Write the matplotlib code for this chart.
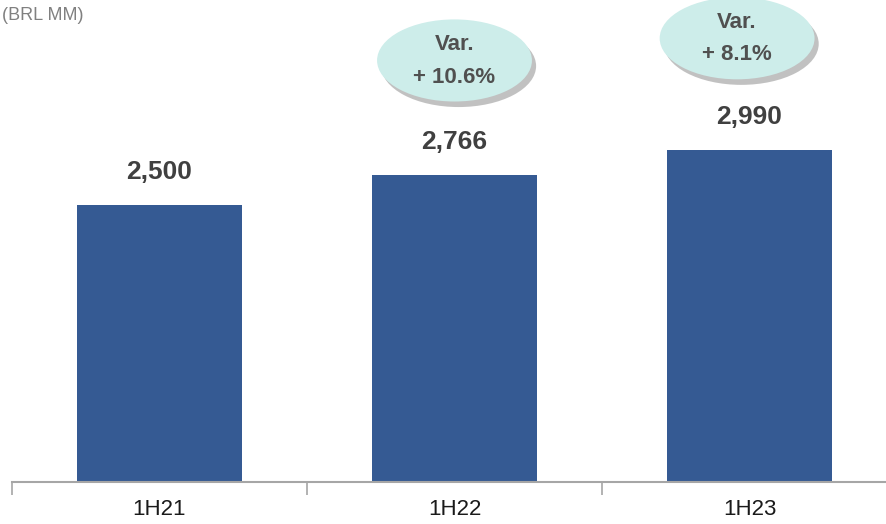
import matplotlib
matplotlib.use("Agg")
import matplotlib.pyplot as plt
from matplotlib.patches import Ellipse
import matplotlib.patheffects as pe

# Data
periods = ["1H21", "1H22", "1H23"]
values = [2500, 2766, 2990]
variations = ["", "+ 10.6%", "+ 8.1%"]
subtitle = "(BRL MM)"

plt.rcParams['font.family'] = ['Liberation Sans', 'DejaVu Sans']

fig = plt.figure(figsize=(8.86, 5.24), dpi=100)
# axes runs a bit past the right edge of the figure (chart is cropped)
ax = fig.add_axes([12 / 886, 42 / 524, 885 / 886, 482 / 524])

x = range(len(periods))
ax.bar(x, values, width=0.56, color="#355A93", zorder=2)

for i, v in enumerate(values):
    ax.annotate(f"{v:,}", (i, v), xytext=(0, 15), textcoords="offset points",
                ha="center", va="bottom", fontsize=19, fontweight="bold", color="#404040")

# variation bubbles above bars (x offset, y centre in data units)
bubble_pos = [(0, 0), (1.0, 3800), (1.958, 4000)]
for i, txt in enumerate(variations):
    if not txt:
        continue
    bx, by = bubble_pos[i]
    e = Ellipse((bx, by), 0.525, 740, facecolor="#CDEDEA", edgecolor="none",
                zorder=3, clip_on=False,
                path_effects=[pe.SimplePatchShadow(offset=(3, -4), shadow_rgbFace="#999999", alpha=0.6),
                              pe.Normal()])
    ax.add_patch(e)
    ax.text(bx, by + 140, "Var.", ha="center", va="center",
            fontsize=16, fontweight="bold", color="#505050", zorder=4)
    ax.text(bx, by - 150, txt, ha="center", va="center",
            fontsize=16, fontweight="bold", color="#505050", zorder=4)

fig.text(2 / 886, 1 - 16 / 524, subtitle, ha="left", va="center",
         fontsize=13, color="#808080")

ax.set_xlim(-0.5, 2.5)
ax.set_ylim(0, 4345)
ax.set_yticks([])
for s in ["top", "right", "left"]:
    ax.spines[s].set_visible(False)
ax.spines["bottom"].set_color("#A6A6A6")
ax.spines["bottom"].set_linewidth(1.5)

ax.set_xticks([-0.5, 0.5, 1.5, 2.5])
ax.set_xticklabels([])
ax.set_xticks(list(x), minor=True)
ax.set_xticklabels(periods, minor=True, fontsize=16, color="#1a1a1a")
ax.tick_params(axis="x", which="major", direction="out", length=9, width=1.2, color="#A6A6A6")
ax.tick_params(axis="x", which="minor", length=0, pad=12)

fig.savefig("out.png", dpi=100)
